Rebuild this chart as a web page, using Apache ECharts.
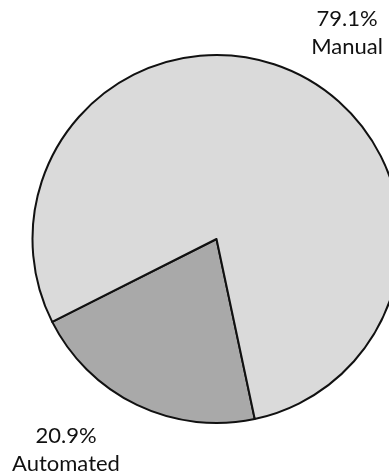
<!DOCTYPE html>
<html>
<head>
<meta charset="utf-8">
<style>
  html, body { margin: 0; padding: 0; background: #ffffff; }
  #chart { width: 389px; height: 474px; }
</style>
<script src="https://cdn.jsdelivr.net/npm/echarts@6/dist/echarts.min.js"></script>
</head>
<body>
<div id="chart"></div>
<script>
// Share of work done by each method (percent)
const categories = ['Automated', 'Manual'];
const shares = [20.9, 79.1];

// Slice fills and label anchors (pixels)
const sliceColors = ['#a9a9a9', '#dadada'];
const labelAnchors = [
  { x: 66, y: 450 },
  { x: 347, y: 33 }
];

const chart = echarts.init(document.getElementById('chart'), null, { renderer: 'canvas' });

chart.setOption({
  animation: false,
  backgroundColor: '#ffffff',
  series: [{
    type: 'pie',
    center: [216.5, 239],
    radius: [0, 184],
    startAngle: -78,
    clockwise: true,
    avoidLabelOverlap: false,
    data: categories.map((name, i) => ({
      name: name,
      value: shares[i],
      itemStyle: { color: sliceColors[i] }
    })),
    itemStyle: { borderColor: '#111111', borderWidth: 2 },
    emphasis: { disabled: true },
    labelLine: { show: false },
    label: {
      show: true,
      position: 'outside',
      formatter: p => p.value.toFixed(1) + '%\n' + p.name,
      fontFamily: 'Lato',
      fontSize: 22,
      lineHeight: 28,
      color: '#111111',
      align: 'center'
    },
    labelLayout: p => ({
      x: labelAnchors[p.dataIndex].x,
      y: labelAnchors[p.dataIndex].y,
      align: 'center',
      verticalAlign: 'middle',
      hideOverlap: false
    })
  }]
});
</script>
</body>
</html>
